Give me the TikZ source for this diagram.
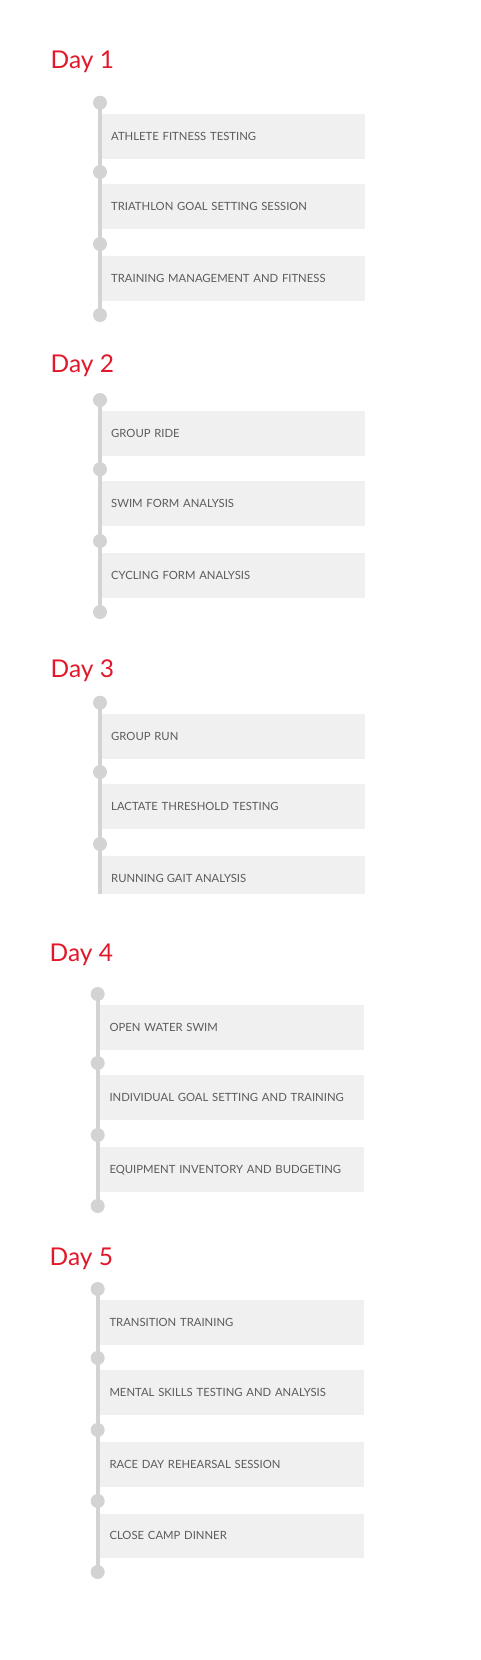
\documentclass[tikz,border=0pt]{standalone}
\usepackage{fontspec}
\setmainfont{Lato}
\usetikzlibrary{backgrounds}
\definecolor{dayred}{HTML}{E2182B}
\definecolor{boxgray}{HTML}{F0F0F0}
\definecolor{linegray}{HTML}{D3D3D3}
\definecolor{textgray}{HTML}{5C5C5C}
\tikzset{
 daytitle/.style={anchor=base west, inner sep=0pt, text=dayred, font=\fontsize{24.5}{28}\selectfont},
 itembox/.style={anchor=north west, fill=boxgray, inner xsep=9.3pt, inner ysep=0pt, text width=244.7pt, align=left, minimum height=44.7pt, text=textgray, font=\fontsize{11.3}{13}\selectfont, text height=8.2pt, text depth=0pt},
 itemtext/.style={anchor=west, inner sep=0pt, text=textgray, font=\fontsize{11.3}{13}\selectfont, text height=8.2pt, text depth=0pt},
 tdot/.style={circle, fill=linegray, minimum size=14pt, inner sep=0pt},
 rail/.style={draw=linegray, line width=4pt},
}
\begin{document}
\begin{tikzpicture}[x=1pt,y=-1pt]
\useasboundingbox (0,0) rectangle (480,1660);
% Day 1
\node[daytitle] (t1) at (50.5,68) {Day 1};
\node[itembox] (b1a) at (101.7,114) {ATHLETE FITNESS TESTING};
\node[itembox] (b1b) at (101.7,184) {TRIATHLON GOAL SETTING SESSION};
\node[itembox] (b1c) at (101.7,256) {TRAINING MANAGEMENT AND FITNESS};
\node[tdot] (d1a) at (100,102.7) {};
\node[tdot] (d1b) at (100,172) {};
\node[tdot] (d1c) at (100,244) {};
\node[tdot] (d1d) at (100,315) {};
% Day 2
\node[daytitle] (t2) at (50.5,372.7) {Day 2};
\node[itembox] (b2a) at (101.7,411) {GROUP RIDE};
\node[itembox] (b2b) at (101.7,481) {SWIM FORM ANALYSIS};
\node[itembox] (b2c) at (101.7,553) {CYCLING FORM ANALYSIS};
\node[tdot] (d2a) at (100,400) {};
\node[tdot] (d2b) at (100,469.3) {};
\node[tdot] (d2c) at (100,541) {};
\node[tdot] (d2d) at (100,612) {};
% Day 3
\node[daytitle] (t3) at (50.5,677) {Day 3};
\node[itembox] (b3a) at (101.7,714) {GROUP RUN};
\node[itembox] (b3b) at (101.7,784) {LACTATE THRESHOLD TESTING};
\node[itembox, minimum height=38pt] (b3c) at (101.7,856) {};
\node[itemtext] (l3c) at (111,878.3) {RUNNING GAIT ANALYSIS};
\node[tdot] (d3a) at (100,702.7) {};
\node[tdot] (d3b) at (100,772) {};
\node[tdot] (d3c) at (100,844) {};
\coordinate (d3end) at (100,894);
% Day 4
\node[daytitle] (t4) at (49.5,961.2) {Day 4};
\node[itembox] (b4a) at (100,1005) {OPEN WATER SWIM};
\node[itembox] (b4b) at (100,1075) {INDIVIDUAL GOAL SETTING AND TRAINING};
\node[itembox] (b4c) at (100,1147) {EQUIPMENT INVENTORY AND BUDGETING};
\node[tdot] (d4a) at (97.7,994) {};
\node[tdot] (d4b) at (97.7,1063) {};
\node[tdot] (d4c) at (97.7,1135) {};
\node[tdot] (d4d) at (97.7,1206) {};
% Day 5
\node[daytitle] (t5) at (49.5,1265.7) {Day 5};
\node[itembox] (b5a) at (100,1300) {TRANSITION TRAINING};
\node[itembox] (b5b) at (100,1370) {MENTAL SKILLS TESTING AND ANALYSIS};
\node[itembox] (b5c) at (100,1442) {RACE DAY REHEARSAL SESSION};
\node[itembox] (b5d) at (100,1513.3) {CLOSE CAMP DINNER};
\node[tdot] (d5a) at (97.7,1289) {};
\node[tdot] (d5b) at (97.7,1358) {};
\node[tdot] (d5c) at (97.7,1430) {};
\node[tdot] (d5d) at (97.7,1501) {};
\node[tdot] (d5e) at (97.7,1572) {};
\begin{scope}[on background layer]
\fill[white] (0,0) rectangle (480,1660);
\draw[rail] (d1a.center) -- (d1d.center);
\draw[rail] (d2a.center) -- (d2d.center);
\draw[rail] (d3a.center) -- (d3end);
\draw[rail] (d4a.center) -- (d4d.center);
\draw[rail] (d5a.center) -- (d5e.center);
\end{scope}
\end{tikzpicture}
\end{document}
